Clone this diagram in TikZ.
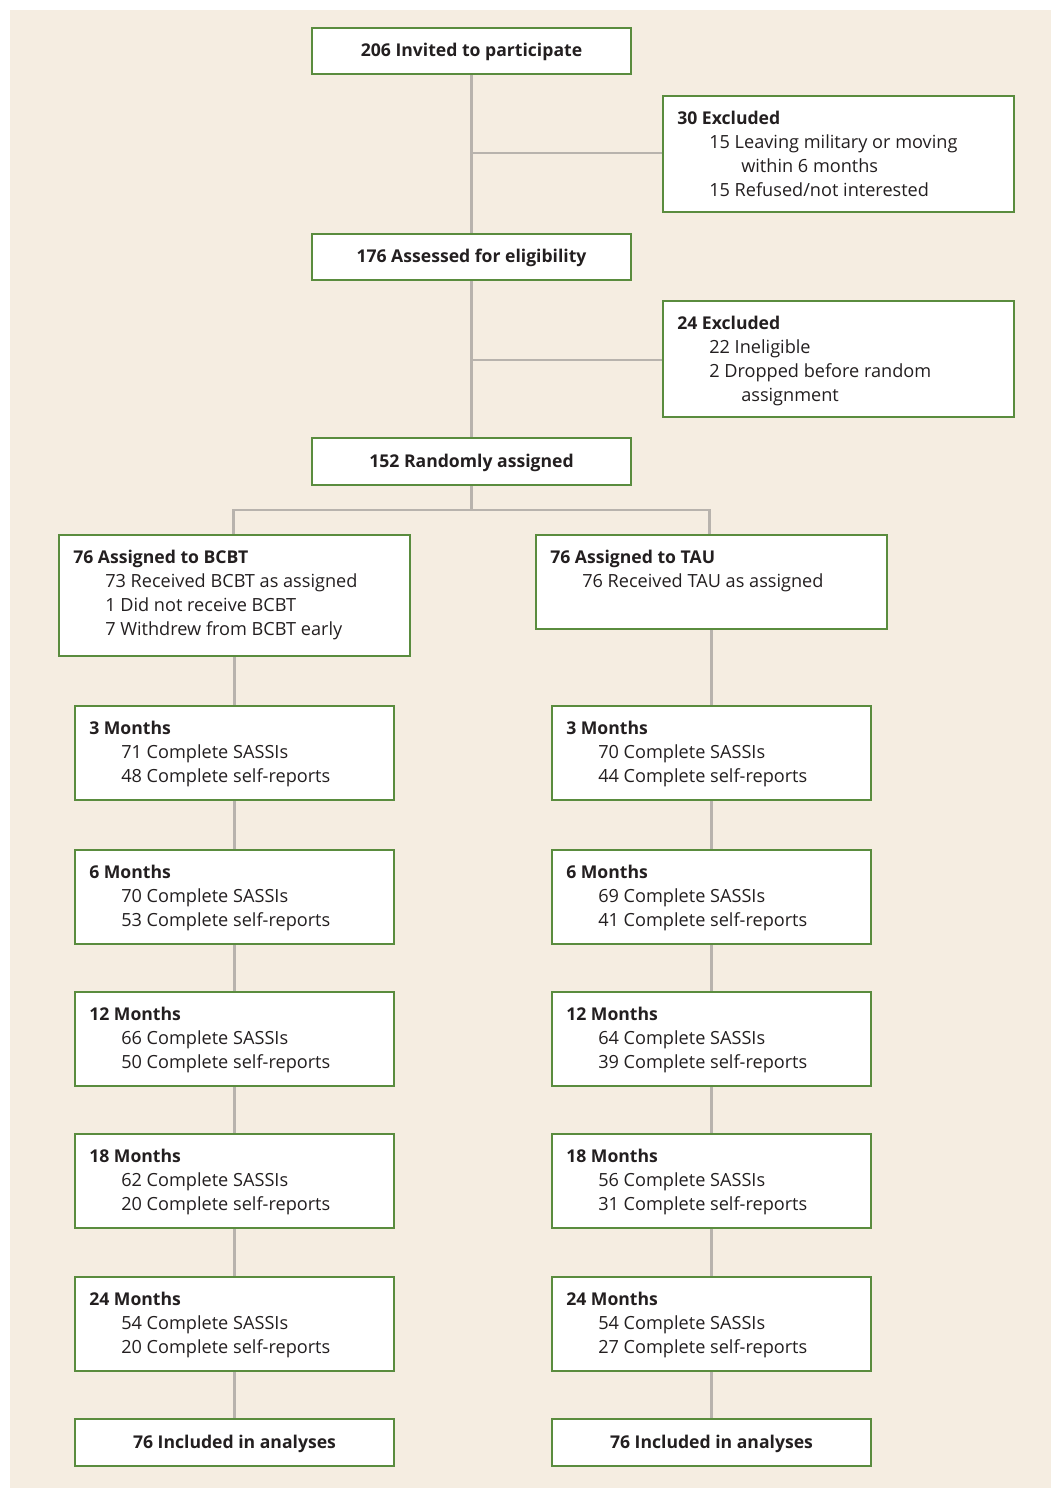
\documentclass[tikz,border=0pt]{standalone}
\usepackage{fontspec}
\setmainfont{Open Sans}
\usetikzlibrary{calc}
\definecolor{bgc}{HTML}{F5EDE1}
\definecolor{boxg}{HTML}{5A8C3E}
\definecolor{linec}{HTML}{B8B3AD}
\definecolor{txt}{HTML}{231F20}
\newcommand{\ia}{\hspace*{24pt}}
\newcommand{\ib}{\hspace*{48pt}}
\newcommand{\hd}[1]{{\fontsize{13.2}{18}\selectfont\bfseries #1}}
\begin{document}
\begin{tikzpicture}[x=0.75pt,y=-0.75pt,
  bx/.style={draw=boxg,line width=1.9pt,fill=white,rectangle,inner sep=0pt,outer sep=0pt,anchor=north west},
  ctext/.style={font=\fontsize{13.2}{18}\selectfont\bfseries,text=txt},
  ltext/.style={font=\fontsize{13.6}{18}\selectfont,text=txt,align=left,anchor=north west,inner sep=0pt},
  conn/.style={draw=linec,line width=2.2pt}]
\useasboundingbox (0,0) rectangle (1051,1488);
\fill[bgc] (10,10) rectangle (1051,1488);
\newcommand{\mybox}[5]{\node[bx,minimum width=#3*0.75pt,minimum height=#4*0.75pt] (#5) at (#1,#2) {};}
\mybox{312}{28}{319}{46}{inv}
\mybox{663}{96}{351}{116}{ex1}
\mybox{312}{234}{319}{46}{ass}
\mybox{663}{301}{351}{116}{ex2}
\mybox{312}{438}{319}{47}{ran}
\mybox{59}{535}{351}{121}{bcbt}
\mybox{536}{535}{351}{94}{tau}
\foreach \nm/\yy in {a3/706,a6/850,a12/992,a18/1134,a24/1277}{
  \mybox{75}{\yy}{319}{94}{L\nm}
  \mybox{552}{\yy}{319}{94}{R\nm}
}
\mybox{75}{1419}{319}{47}{Linc}
\mybox{552}{1419}{319}{47}{Rinc}
\coordinate (j1) at (471.5,153);
\coordinate (j2) at (471.5,360);
\coordinate (j3) at (471.5,510);
\coordinate (jl) at (233.5,510);
\coordinate (jr) at (709.5,510);
\draw[conn] (inv.south) -- (ass.north);
\draw[conn] (j1) -- (ex1.west |- j1);
\draw[conn] (ass.south) -- (ran.north);
\draw[conn] (j2) -- (ex2.west |- j2);
\draw[conn] (ran.south) -- (j3);
\draw[conn] (bcbt.north -| jl) -- (jl) -- (jr) -- (tau.north -| jr);
\draw[conn] (bcbt.south -| La3.north) -- (La3.north);
\draw[conn] (tau.south -| Ra3.north) -- (Ra3.north);
\foreach \s in {L,R}{
  \draw[conn] (\s a3.south) -- (\s a6.north);
  \draw[conn] (\s a6.south) -- (\s a12.north);
  \draw[conn] (\s a12.south) -- (\s a18.north);
  \draw[conn] (\s a18.south) -- (\s a24.north);
  \draw[conn] (\s a24.south) -- (\s inc.north);
}
\foreach \n in {inv,ex1,ass,ex2,ran,bcbt,tau,La3,Ra3,La6,Ra6,La12,Ra12,La18,Ra18,La24,Ra24,Linc,Rinc}{
  \draw[boxg,line width=1.9pt] (\n.north west) rectangle (\n.south east);
}
\node[ctext] (tinv) at ($(inv.center)+(0,1)$) {206 Invited to participate};
\node[ctext] (tass) at ($(ass.center)+(0,1)$) {176 Assessed for eligibility};
\node[ctext] (tran) at ($(ran.center)+(0,1)$) {152 Randomly assigned};
\node[ctext] (tli) at ($(Linc.center)+(0,1)$) {76 Included in analyses};
\node[ctext] (tri) at ($(Rinc.center)+(0,1)$) {76 Included in analyses};
\node[ltext] (tex1) at ($(ex1.north west)+(14,15)$) {\hd{30 Excluded}\\\ia 15 Leaving military or moving\\\ib within 6 months\\\ia 15 Refused/not interested};
\node[ltext] (tex2) at ($(ex2.north west)+(14,15)$) {\hd{24 Excluded}\\\ia 22 Ineligible\\\ia 2 Dropped before random\\\ib assignment};
\node[ltext] (tbc) at ($(bcbt.north west)+(14,15)$) {\hd{76 Assigned to BCBT}\\\ia 73 Received BCBT as assigned\\\ia 1 Did not receive BCBT\\\ia 7 Withdrew from BCBT early};
\node[ltext] (ttau) at ($(tau.north west)+(14,15)$) {\hd{76 Assigned to TAU}\\\ia 76 Received TAU as assigned};
\foreach \s/\m/\a/\b in {La3/3/71/48,Ra3/3/70/44,La6/6/70/53,Ra6/6/69/41,La12/12/66/50,Ra12/12/64/39,La18/18/62/20,Ra18/18/56/31,La24/24/54/20,Ra24/24/54/27}{
  \node[ltext] (t\s) at ($(\s.north west)+(14,15)$) {\hd{\m\ Months}\\\ia \a\ Complete SASSIs\\\ia \b\ Complete self-reports};
}
\end{tikzpicture}
\end{document}
